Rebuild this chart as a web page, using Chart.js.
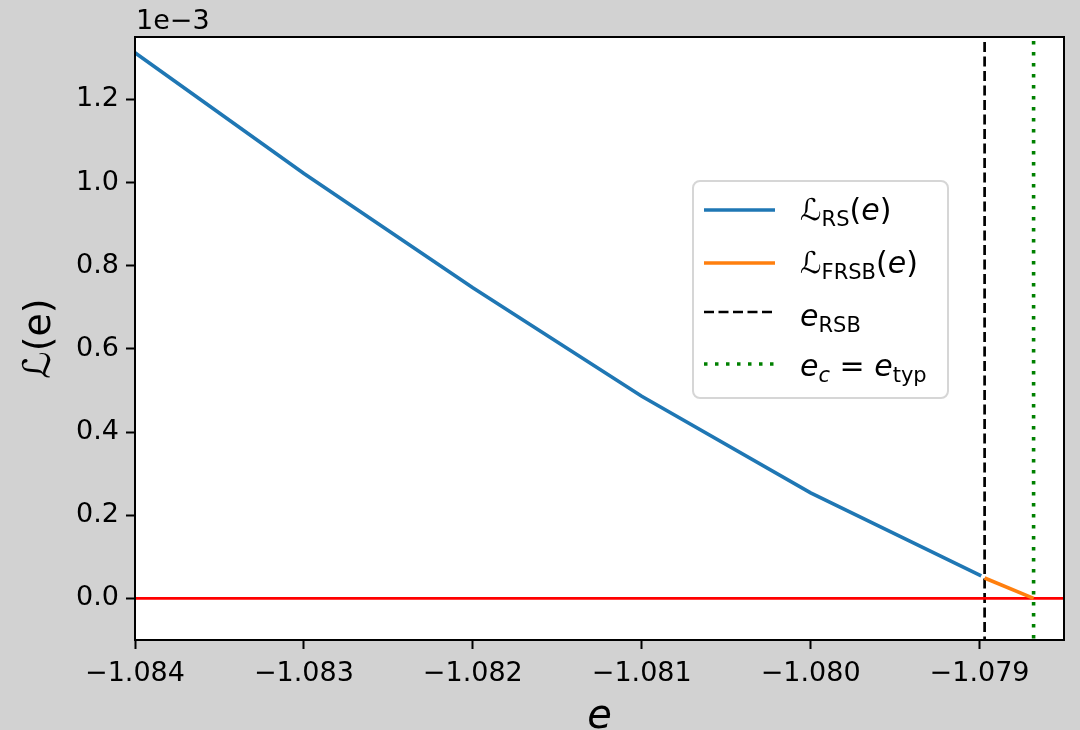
<!DOCTYPE html>
<html>
<head>
<meta charset="utf-8">
<script src="https://cdn.jsdelivr.net/npm/chart.js@4.4.1/dist/chart.umd.min.js"></script>
<style>
  html, body { margin: 0; padding: 0; background: #d2d2d2; }
  #plot { display: block; }
</style>
</head>
<body>
<canvas id="plot" width="1080" height="730"></canvas>
<script>
// values (loss in raw units, axis shows them x1e-3)
const energiesRS = [-1.084, -1.083, -1.082, -1.081, -1.080, -1.07899];
const lossRS = [1.312e-3, 1.022e-3, 0.747e-3, 0.486e-3, 0.254e-3, 0.054e-3];

const energiesFRSB = [-1.07897, -1.07868];
const lossFRSB = [0.049e-3, 0.0];

const eRSB = -1.07897;
const eTyp = -1.07868;

const xRange = [-1.084, -1.0785];
const yRange = [-0.1e-3, 1.35e-3];
const xTicks = [-1.084, -1.083, -1.082, -1.081, -1.080, -1.079];
const yTicks = [0, 0.2e-3, 0.4e-3, 0.6e-3, 0.8e-3, 1.0e-3, 1.2e-3];

const FONT = '"DejaVu Sans", sans-serif';

const zip = (xs, ys) => xs.map((x, i) => ({ x: x, y: ys[i] }));

// draws text with subscripts / italics, parts = [{t, sub, it}]
function drawRich(ctx, parts, x, y, size) {
    let cx = x;
    parts.forEach(p => {
        const s = p.sub ? size * 0.7 : size;
        ctx.font = (p.it ? 'italic ' : '') + s + 'px ' + FONT;
        ctx.fillText(p.t, cx, p.sub ? y + size * 0.2 : y);
        cx += ctx.measureText(p.t).width;
    });
}

const richLegend = {
    id: 'richLegend',
    afterDraw(chart) {
        const ctx = chart.ctx;
        const box = { x: 693, y: 181, w: 255, h: 217 };
        ctx.save();
        ctx.beginPath();
        ctx.roundRect(box.x, box.y, box.w, box.h, 7);
        ctx.fillStyle = 'rgba(255,255,255,0.85)';
        ctx.fill();
        ctx.lineWidth = 2;
        ctx.strokeStyle = '#d6d6d6';
        ctx.stroke();

        const rowsY = [210, 263, 312, 364];
        const baseY = [220, 273, 326, 376];
        chart.data.datasets.forEach(ds => {
            if (!ds.legendParts) return;
            ctx.beginPath();
            ctx.setLineDash(ds.borderDash || []);
            ctx.lineWidth = ds.borderWidth;
            ctx.strokeStyle = ds.borderColor;
            ctx.moveTo(704, rowsY[ds.legendRow]);
            ctx.lineTo(775, rowsY[ds.legendRow]);
            ctx.stroke();
            ctx.setLineDash([]);
            ctx.fillStyle = '#000';
            ctx.textBaseline = 'alphabetic';
            ctx.textAlign = 'left';
            drawRich(ctx, ds.legendParts, 800, baseY[ds.legendRow], 30);
        });
        ctx.restore();
    }
};

const decor = {
    id: 'decor',
    beforeDraw(chart) {
        const { ctx, chartArea: a } = chart;
        ctx.save();
        ctx.fillStyle = '#d2d2d2';
        ctx.fillRect(0, 0, chart.width, chart.height);
        ctx.fillStyle = '#ffffff';
        ctx.fillRect(a.left, a.top, a.right - a.left, a.bottom - a.top);
        ctx.restore();
    },
    afterDatasetsDraw(chart) {
        const { ctx, chartArea: a } = chart;
        ctx.save();
        ctx.lineWidth = 2;
        ctx.strokeStyle = '#000';
        ctx.strokeRect(a.left, a.top, a.right - a.left, a.bottom - a.top);

        // offset text of the y axis
        ctx.fillStyle = '#000';
        ctx.textAlign = 'left';
        ctx.textBaseline = 'alphabetic';
        ctx.font = '27px ' + FONT;
        ctx.fillText('1e\u22123', a.left + 1, 29);

        // x title
        ctx.textAlign = 'center';
        ctx.font = 'italic 40px ' + FONT;
        ctx.fillText('e', (a.left + a.right) / 2, 728);

        // y title
        ctx.translate(40, (a.top + a.bottom) / 2);
        ctx.rotate(-Math.PI / 2);
        ctx.textBaseline = 'middle';
        ctx.font = '38px ' + FONT;
        ctx.fillText('\u2112(e)', 0, 0);
        ctx.restore();
    }
};

const minus = v => String(v).replace('-', '\u2212');

new Chart(document.getElementById('plot'), {
    type: 'scatter',
    data: {
        datasets: [
            {
                data: zip(energiesRS, lossRS),
                showLine: true, borderColor: '#1f77b4', borderWidth: 3.6,
                pointRadius: 0, legendRow: 0,
                legendParts: [{ t: '\u2112' }, { t: 'RS', sub: true }, { t: '(' }, { t: 'e', it: true }, { t: ')' }]
            },
            {
                data: zip(energiesFRSB, lossFRSB),
                showLine: true, borderColor: '#ff7f0e', borderWidth: 3.6,
                pointRadius: 0, legendRow: 1,
                legendParts: [{ t: '\u2112' }, { t: 'FRSB', sub: true }, { t: '(' }, { t: 'e', it: true }, { t: ')' }]
            },
            {
                data: zip(xRange, [0, 0]),
                showLine: true, borderColor: '#ff0000', borderWidth: 2.6,
                pointRadius: 0
            },
            {
                data: zip([eRSB, eRSB], [yRange[1], yRange[0]]),
                showLine: true, borderColor: '#000000', borderWidth: 2.7,
                borderDash: [10, 4.5], borderDashOffset: -5,
                pointRadius: 0, legendRow: 2,
                legendParts: [{ t: 'e', it: true }, { t: 'RSB', sub: true }]
            },
            {
                data: zip([eTyp, eTyp], [yRange[1], yRange[0]]),
                showLine: true, borderColor: '#008000', borderWidth: 3.6,
                borderDash: [3.5, 7.5], borderDashOffset: -4,
                pointRadius: 0, legendRow: 3,
                legendParts: [{ t: 'e', it: true }, { t: 'c', it: true, sub: true }, { t: ' = ' }, { t: 'e', it: true }, { t: 'typ', sub: true }]
            }
        ]
    },
    options: {
        responsive: false,
        animation: false,
        devicePixelRatio: 1,
        layout: { padding: { left: 0, top: 37, right: 16, bottom: 0 } },
        plugins: { legend: { display: false }, tooltip: { enabled: false } },
        scales: {
            x: {
                type: 'linear',
                min: xRange[0], max: xRange[1],
                afterFit: s => { s.height = 90; },
                afterBuildTicks: s => { s.ticks = xTicks.map(v => ({ value: v })); },
                border: { display: false },
                grid: { drawOnChartArea: false, drawTicks: true, tickLength: 9, tickWidth: 2, tickColor: '#000' },
                ticks: {
                    color: '#000', padding: 9, maxRotation: 0,
                    font: { family: FONT, size: 27 },
                    callback: v => minus(v.toFixed(3))
                }
            },
            y: {
                type: 'linear',
                min: yRange[0], max: yRange[1],
                afterFit: s => { s.width = 135; },
                afterBuildTicks: s => { s.ticks = yTicks.map(v => ({ value: v })); },
                border: { display: false },
                grid: { drawOnChartArea: false, drawTicks: true, tickLength: 9, tickWidth: 2, tickColor: '#000' },
                ticks: {
                    color: '#000', padding: 7,
                    font: { family: FONT, size: 27 },
                    callback: v => (v * 1e3).toFixed(1)
                }
            }
        }
    },
    plugins: [decor, richLegend]
});
</script>
</body>
</html>
